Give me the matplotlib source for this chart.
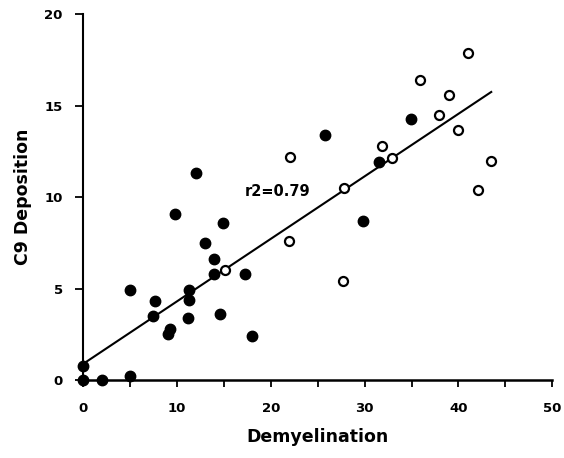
"""C9 deposition vs demyelination scatter with regression line"""
import matplotlib
matplotlib.use('Agg')
from matplotlib import pyplot as plt

# filled circles
filled_x = [0, 0, 2.0, 5.0, 5.0, 7.6, 7.4, 9.2, 9.05, 9.8, 11.3, 11.3, 11.1, 12.0,
            13.0, 13.9, 13.9, 14.9, 14.6, 17.2, 17.95, 25.8, 29.8, 31.5, 34.9]
filled_y = [0.8, 0, 0, 0.2, 4.9, 4.3, 3.5, 2.8, 2.5, 9.1, 4.9, 4.4, 3.4, 11.3,
            7.5, 6.6, 5.8, 8.6, 3.6, 5.8, 2.4, 13.4, 8.7, 11.9, 14.25]

# open circles
open_x = [15.1, 21.9, 22.0, 27.7, 27.8, 31.8, 32.9, 35.9, 37.9, 39.0, 40.0,
          41.0, 42.1, 43.5]
open_y = [6.0, 7.6, 12.2, 5.4, 10.5, 12.8, 12.15, 16.4, 14.5, 15.6, 13.65,
          17.9, 10.4, 11.95]

# regression line end points
fit_x = [0, 43.5]
fit_y = [0.9, 15.75]

plt.rcParams['font.family'] = 'DejaVu Sans'
plt.rcParams['font.weight'] = 'bold'

fig = plt.figure(figsize=(5.64, 4.58), dpi=100)
ax = fig.add_axes([0.148, 0.170, 0.831, 0.799])

ax.plot(fit_x, fit_y, color='black', lw=1.5, zorder=2)
ax.plot(filled_x, filled_y, 'o', color='black', ms=7.5, clip_on=False, zorder=3)
ax.plot(open_x, open_y, 'o', mfc='white', mec='black', mew=1.6, ms=6.5,
        clip_on=False, zorder=3)

ax.text(17.2, 10.3, 'r2=0.79', fontsize=10.5, fontweight='bold', va='center')

ax.set_xlim(0, 50)
ax.set_ylim(0, 20)
ax.set_xticks(range(0, 51, 10))
ax.set_xticks(range(5, 50, 10), minor=True)
ax.set_yticks(range(0, 21, 5))
ax.spines['top'].set_visible(False)
ax.spines['right'].set_visible(False)
ax.spines['left'].set_linewidth(1.5)
ax.spines['bottom'].set_linewidth(1.8)
ax.tick_params(axis='x', which='both', direction='out', length=5, width=1.3,
               pad=11, labelsize=9.5)
ax.tick_params(axis='y', direction='out', length=6, width=1.3, pad=9,
               labelsize=9.5)

ax.set_xlabel('Demyelination', fontsize=12.5, fontweight='bold', labelpad=9)
ax.set_ylabel('C9 Deposition', fontsize=12.5, fontweight='bold', labelpad=9)

fig.savefig('out.png', dpi=100)
